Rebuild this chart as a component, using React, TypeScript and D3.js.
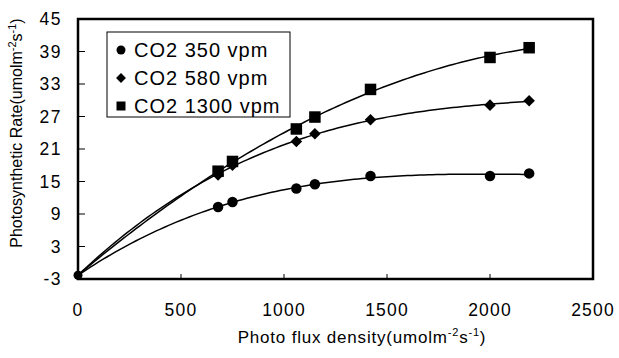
import React from 'react'
import * as d3 from 'd3'

// PPFD (umol m-2 s-1) and photosynthetic rate for each CO2 level
const ppfd = [0, 680, 750, 1060, 1150, 1420, 2000, 2190]
const co2_350 = [-2.3, 10.3, 11.2, 13.7, 14.5, 16.0, 16.0, 16.5]
const co2_580 = [-2.3, 16.2, 18.0, 22.4, 23.8, 26.4, 29.1, 29.9]
const co2_1300 = [-2.3, 16.9, 18.7, 24.7, 26.9, 32.0, 37.9, 39.7]

const xTicks = [0, 500, 1000, 1500, 2000, 2500]
const yTicks = [-3, 3, 9, 15, 21, 27, 33, 39, 45]

const seriesNames = ['CO2 350 vpm', 'CO2 580 vpm', 'CO2 1300 vpm']
const seriesShapes = ['circle', 'diamond', 'square']

const W = 619, H = 358
const left = 78, right = 593, top = 19, bottom = 279

const font = 'Arial, "Liberation Sans", sans-serif'

// least squares polynomial trendline (like the spreadsheet one in the original)
function polyFit(xs: number[], ys: number[], deg: number) {
  const n = deg + 1
  const A: number[][] = []
  for (let r = 0; r < n; r++) {
    A.push(new Array(n + 1).fill(0))
    for (let c = 0; c < n; c++) A[r][c] = d3.sum(xs, v => Math.pow(v, r + c))
    A[r][n] = d3.sum(xs, (v, i) => Math.pow(v, r) * ys[i])
  }
  for (let i = 0; i < n; i++) {
    let p = i
    for (let k = i + 1; k < n; k++) if (Math.abs(A[k][i]) > Math.abs(A[p][i])) p = k
    const tmp = A[i]; A[i] = A[p]; A[p] = tmp
    for (let k = i + 1; k < n; k++) {
      const f = A[k][i] / A[i][i]
      for (let c = i; c <= n; c++) A[k][c] -= f * A[i][c]
    }
  }
  const coef = new Array(n).fill(0)
  for (let i = n - 1; i >= 0; i--) {
    let s = A[i][n]
    for (let c = i + 1; c < n; c++) s -= A[i][c] * coef[c]
    coef[i] = s / A[i][i]
  }
  return (v: number) => coef.reduce((acc, c, i) => acc + c * Math.pow(v, i), 0)
}

function marker(shape: string, x: number, y: number, s: number, key?: string) {
  if (shape === 'circle') return <circle key={key} cx={x} cy={y} r={s * 0.5} fill="#000" />
  if (shape === 'square') return <rect key={key} x={x - s / 2} y={y - s / 2} width={s} height={s} fill="#000" />
  const h = s * 0.55
  return <path key={key} d={`M${x},${y - h}L${x + h},${y}L${x},${y + h}L${x - h},${y}Z`} fill="#000" />
}

export default function App() {
  const x = d3.scaleLinear().domain([0, 2500]).range([left, right])
  const y = d3.scaleLinear().domain([-3, 45]).range([bottom, top])

  const series = [co2_350, co2_580, co2_1300]
  const xk = ppfd.map(v => v / 1000)
  const last = d3.max(ppfd) as number
  const samples = d3.range(0, last + 1, 20)

  const trend = (s: number[]) => {
    const f = polyFit(xk, s, 3)
    return d3.line<number>().x(v => x(v)).y(v => y(f(v / 1000)))(samples) || ''
  }

  return (
    <svg width={W} height={H} style={{ position: 'absolute', left: 0, top: 0, background: '#fff' }}
      fontFamily={font}>
      <rect x={0} y={0} width={W} height={H} fill="#fff" />

      {/* trendlines */}
      {series.map((s, i) => (
        <path key={'l' + i} d={trend(s)} fill="none" stroke="#000" strokeWidth={1.5} />
      ))}

      {/* markers */}
      {series.map((s, i) => s.map((v, j) =>
        j === 0 ? null : marker(seriesShapes[i], x(ppfd[j]), y(v), i === 2 ? 11.5 : 10.5, 'm' + i + '-' + j)
      ))}
      <circle cx={x(0)} cy={y(-2.3)} r={4.5} fill="#000" />

      {/* ticks */}
      {yTicks.map(t => (
        <g key={'yt' + t}>
          <line x1={left} x2={left + 7} y1={y(t)} y2={y(t)} stroke="#000" strokeWidth={1} />
          <text x={62} y={y(t)} textAnchor="end" dominantBaseline="central" fontSize={17.5} letterSpacing={1.5}>{t}</text>
        </g>
      ))}
      {xTicks.map(t => (
        <g key={'xt' + t}>
          <line x1={x(t)} x2={x(t)} y1={bottom} y2={bottom - 5} stroke="#000" strokeWidth={1} />
          <text x={x(t)} y={310} textAnchor="middle" dominantBaseline="central" fontSize={17.5} letterSpacing={1.2}>{t}</text>
        </g>
      ))}

      {/* frame */}
      <rect x={left} y={top} width={right - left} height={bottom - top} fill="none" stroke="#000" strokeWidth={2.5} />

      {/* legend */}
      <rect x={107} y={32} width={183} height={85} fill="#fff" stroke="#000" strokeWidth={1} />
      {seriesNames.map((n, i) => (
        <g key={'lg' + i}>
          {marker(seriesShapes[i], 121, 50 + i * 28, 9)}
          <text x={134} y={50 + i * 28} dominantBaseline="central" fontSize={20} letterSpacing={1}>{n}</text>
        </g>
      ))}

      {/* axis titles */}
      <text x={362} y={343} textAnchor="middle" fontSize={17} letterSpacing={0.8}>
        Photo flux density(umolm<tspan fontSize={11} dy={-7}>-2</tspan><tspan dy={7}>s</tspan><tspan fontSize={11} dy={-7}>-1</tspan><tspan dy={7}>)</tspan>
      </text>
      <text transform={`translate(22,133) rotate(-90)`} textAnchor="middle" fontSize={16}>
        Photosynthetic Rate(umolm<tspan fontSize={11} dy={-6}>-2</tspan><tspan dy={6}>s</tspan><tspan fontSize={11} dy={-6}>-1</tspan><tspan dy={6}>)</tspan>
      </text>
    </svg>
  )
}
